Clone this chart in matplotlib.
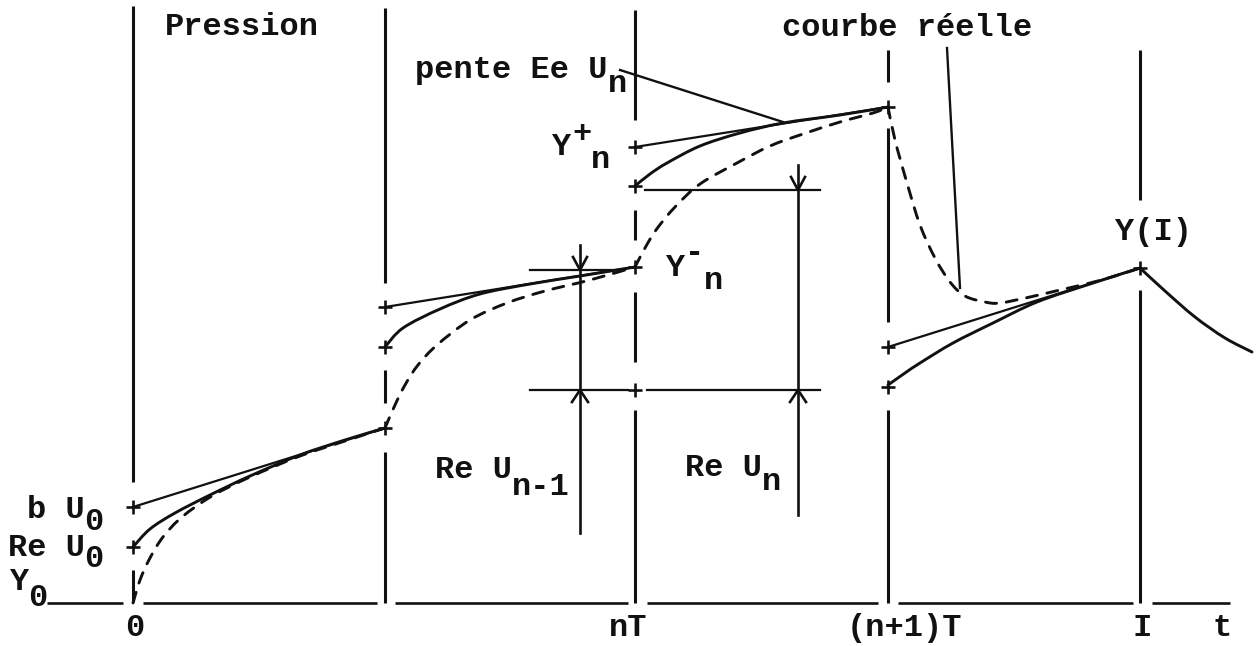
import numpy as np
import matplotlib
matplotlib.use("Agg")
import matplotlib.pyplot as plt
from matplotlib.path import Path
from matplotlib.patches import PathPatch

plt.rcParams['lines.scale_dashes'] = False

W, H = 1257, 646

# Time marks along the axis (pixel layout of the sketch)
t_pos = [133, 385, 635, 888, 1140]
t_labels = ['0', '', 'nT', '(n+1)T', 'I']
baseline_y = 603

# Vertical guide lines: x -> list of (top, bottom) pieces
vertical_pieces = {
    133: [(6, 482), (570, 602)],
    385: [(8, 283), (370, 403), (452, 603)],
    635: [(10, 120), (210, 240), (292, 362), (410, 603)],
    888: [(50, 82), (128, 322), (410, 603)],
    1140: [(50, 200), (290, 603)],
}
baseline_pieces = [(47, 123), (143, 377), (395, 628), (647, 878), (898, 1133), (1152, 1230)]

# Tangent lines (slope Ee U) on each interval
tangents = [
    [(133, 507), (385, 428)],
    [(385, 307), (635, 267)],
    [(635, 147), (888, 107)],
    [(888, 347), (1140, 268)],
]

# Model response curves (solid) on each interval
solid_curves = [
    [(133, 547), (150, 529), (175, 513), (210, 495), (250, 476), (300, 455), (345, 440), (385, 428)],
    [(385, 347), (403, 328), (440, 309), (480, 294), (530, 284), (580, 276), (635, 267)],
    [(635, 186), (650, 174), (667, 163), (700, 146), (740, 133), (783, 123), (840, 115), (888, 107)],
    [(888, 385), (905, 373), (920, 363), (953, 343), (993, 323), (1037, 302), (1090, 284), (1140, 268)],
    [(1140, 268), (1165, 291), (1195, 317), (1225, 338), (1252, 352)],
]

# Real pressure curve (dashed)
real_curves = [
    [(133, 603), (140, 580), (150, 558), (163, 537), (182, 517), (212, 496), (250, 477), (300, 456), (345, 441), (385, 428)],
    [(385, 428), (395, 405), (405, 385), (418, 365), (437, 345), (470, 320), (507, 303), (545, 291), (590, 280), (635, 267)],
    [(635, 267), (645, 248), (656, 230), (675, 207), (700, 184), (737, 163), (770, 146), (803, 134), (840, 122), (873, 113), (888, 107)],
    [(888, 107), (895, 140), (907, 183), (920, 225), (935, 258), (950, 282), (965, 296), (985, 302), (1000, 303),
     (1030, 297), (1060, 290), (1090, 283), (1115, 276), (1140, 268)],
]

# Pointer lines from labels
pointers = [
    [(620, 70), (783, 122)],
    [(947, 48), (960, 288)],
]

# Reference marks (+)
cross_x = [133, 133, 385, 385, 385, 635, 635, 635, 635, 888, 888, 888, 1140]
cross_y = [507, 547, 307, 347, 428, 147, 186, 267, 390, 107, 347, 387, 268]

# Jump dimension markers: x, top level, bottom level, stem extent, horizontal extents
jumps = [
    dict(x=580, top=270, bottom=390, stem=(245, 533), htop=(530, 625), hbot=(530, 628)),
    dict(x=798, top=190, bottom=390, stem=(165, 515), htop=(645, 820), hbot=(647, 820)),
]


def smooth(points):
    p = np.asarray(points, float)
    n = len(p)
    verts = [p[0]]
    codes = [Path.MOVETO]
    for i in range(n - 1):
        p0 = p[i - 1] if i > 0 else p[i]
        p1 = p[i]
        p2 = p[i + 1]
        p3 = p[i + 2] if i + 2 < n else p[i + 1]
        verts += [p1 + (p2 - p0) / 6, p2 - (p3 - p1) / 6, p2]
        codes += [Path.CURVE4] * 3
    return Path(verts, codes)


fig = plt.figure(figsize=(W / 100, H / 100), dpi=100)
ax = fig.add_axes([0, 0, 1, 1])
ax.set_xlim(0, W)
ax.set_ylim(H, 0)
ax.axis('off')

ink = '#111111'

for x, pieces in vertical_pieces.items():
    for y0, y1 in pieces:
        ax.plot([x, x], [y0, y1], color=ink, lw=2.2, solid_capstyle='butt')

for x0, x1 in baseline_pieces:
    ax.plot([x0, x1], [baseline_y, baseline_y], color=ink, lw=1.9, solid_capstyle='butt')

for seg in tangents:
    (x0, y0), (x1, y1) = seg
    ax.plot([x0, x1], [y0, y1], color=ink, lw=1.6)

for pts in solid_curves:
    ax.add_patch(PathPatch(smooth(pts), fill=False, ec=ink, lw=2.1, capstyle='round'))

for pts in real_curves:
    ax.add_patch(PathPatch(smooth(pts), fill=False, ec=ink, lw=2.1,
                           linestyle=(0, (8.0, 7.0)), capstyle='round'))

for seg in pointers:
    (x0, y0), (x1, y1) = seg
    ax.plot([x0, x1], [y0, y1], color=ink, lw=1.7)

ax.plot(cross_x, cross_y, ls='none', marker='+', ms=10, mew=1.9, color=ink)

for j in jumps:
    x = j['x']
    ax.plot([x, x], list(j['stem']), color=ink, lw=1.9)
    ax.plot(list(j['htop']), [j['top'], j['top']], color=ink, lw=1.6)
    ax.plot(list(j['hbot']), [j['bottom'], j['bottom']], color=ink, lw=1.6)
    # arrow pointing down onto the upper level
    ax.plot([x - 7, x, x + 7], [j['top'] - 13, j['top'], j['top'] - 13], color=ink, lw=1.9)
    # arrow pointing up onto the lower level
    ax.plot([x - 8, x, x + 8], [j['bottom'] + 12, j['bottom'], j['bottom'] + 12], color=ink, lw=1.9)

font = dict(family='Liberation Mono', fontweight='bold', fontsize=23, color=ink)


def label(x, y, s, ha='left'):
    ax.text(x, y, s, ha=ha, va='center', **font)


# headings
label(165, 27, 'Pression')
label(782, 28, 'courbe réelle')
label(415, 70, 'pente Ee U')
label(608, 84, 'n')

# levels at nT
label(552, 147, 'Y')
label(572, 134, '+')
label(591, 160, 'n')
label(666, 268, 'Y')
label(685, 253, '-')
label(704, 281, 'n')
label(1115, 232, 'Y(I)')

# jump labels
label(435, 470, 'Re U')
label(512, 487, 'n-1')
label(685, 468, 'Re U')
label(762, 482, 'n')

# initial levels
label(27, 510, 'b U')
label(84, 522, '0')
label(8, 548, 'Re U')
label(84, 559, '0')
label(10, 582, 'Y')
label(28, 598, '0')

# time axis labels
for x, s in zip(t_pos, t_labels):
    if s == '(n+1)T':
        label(847, 628, s)
    elif s == 'nT':
        label(628, 628, s, ha='center')
    elif s:
        label(x + 2, 628, s, ha='center')
label(1222, 628, 't', ha='center')

fig.savefig('out.png', dpi=100, facecolor='white')
